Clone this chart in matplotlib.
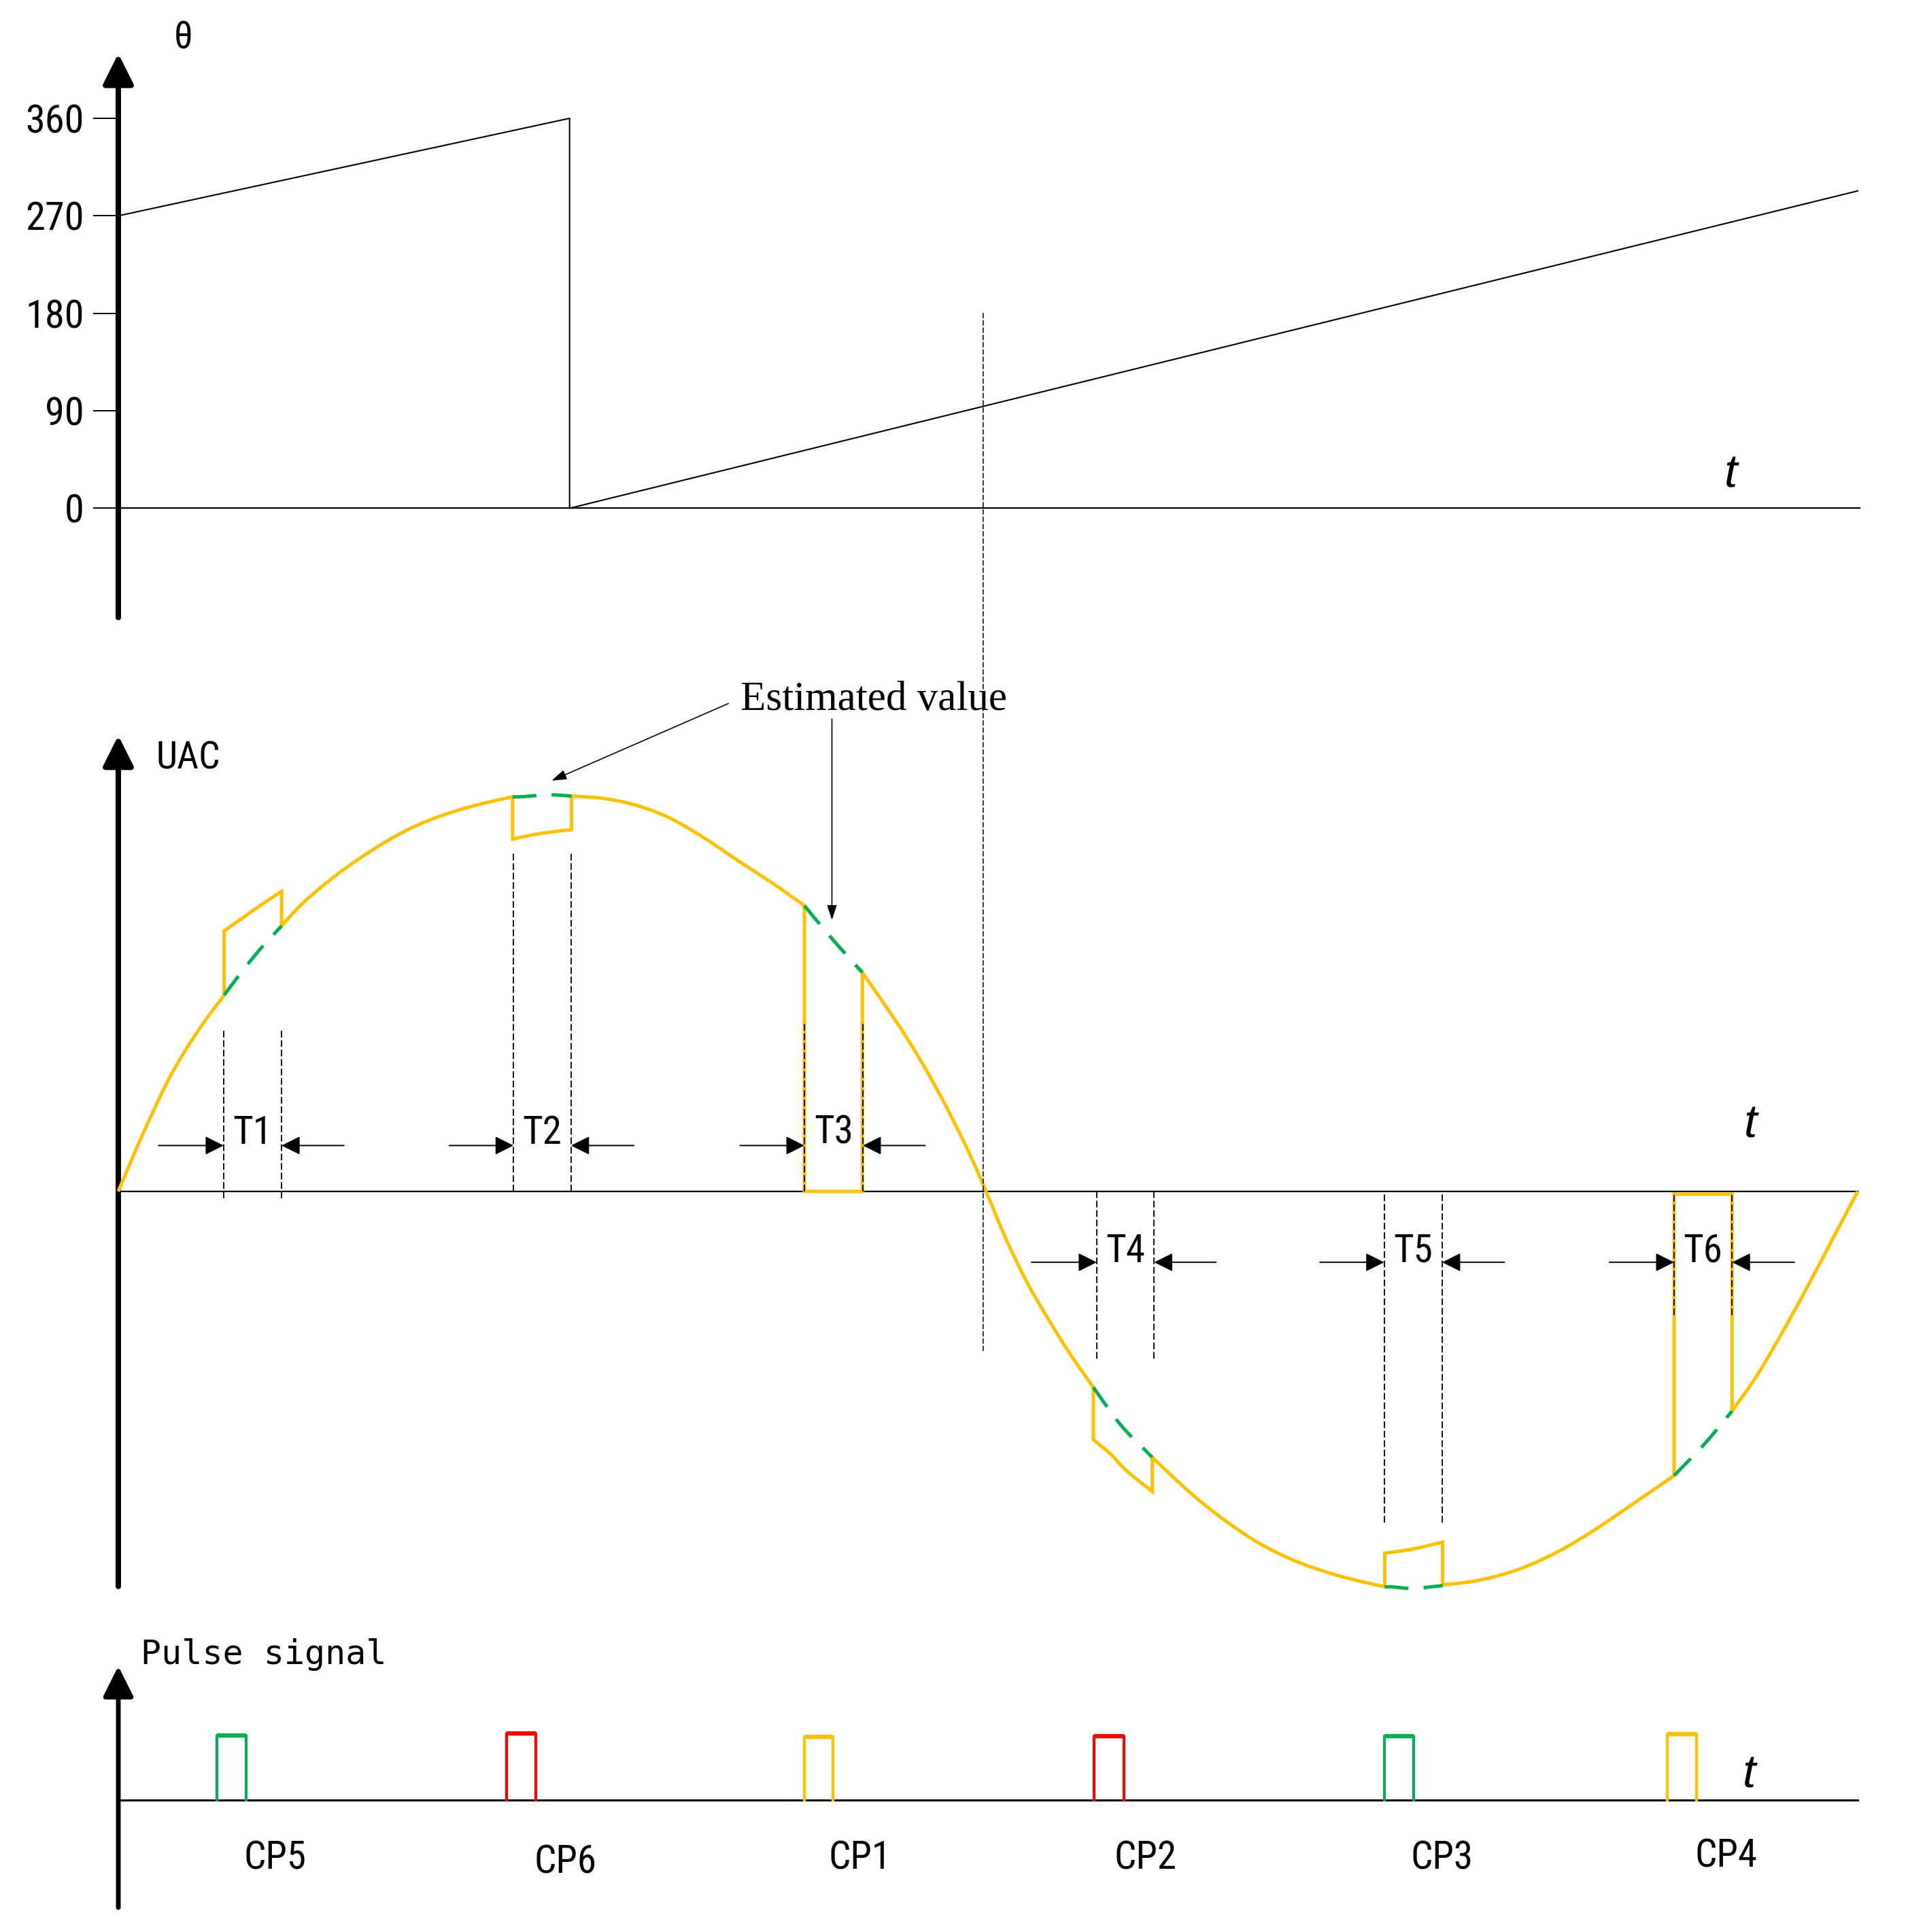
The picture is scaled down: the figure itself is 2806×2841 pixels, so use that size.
import matplotlib
matplotlib.use('Agg')
import matplotlib.pyplot as plt
from matplotlib import font_manager
from matplotlib.patches import ConnectionPatch, PathPatch
from matplotlib.path import Path

names = {f.name for f in font_manager.fontManager.ttflist}


def pick_narrow():
    for n in ['Liberation Sans Narrow', 'Noto Sans Condensed', 'DejaVu Sans Condensed',
              'Roboto Condensed', 'Open Sans Condensed']:
        if n in names:
            return dict(family=n)
    for f in font_manager.fontManager.ttflist:
        if (f.stretch == 'condensed' and f.style == 'normal'
                and f.name in ('Noto Sans', 'DejaVu Sans', 'Open Sans', 'Roboto')):
            return dict(family=f.name, stretch='condensed')
    return dict(family='Liberation Sans')


NARROW = pick_narrow()

# t runs over one UAC period, in degrees
# top panel: phase angle theta
theta_ticks = [0, 90, 180, 270, 360]
theta_t = [0, 93.4, 93.4, 360]
theta_v = [270, 360, 0, 293]

# middle panel: UAC (normalised), with the six distorted windows
uac_t = [0, 3.7, 6.2, 10.2, 13.5, 17.3, 21.9,
         21.9, 25.7, 30.4, 33.8, 33.8,
         37.0, 43.3, 51.0, 60.4, 67.0, 71.7, 76.4, 81.6,
         81.6, 85.7, 89.5, 93.8, 93.8,
         99.8, 106.8, 113.9, 120.9, 128.0, 137.4, 142.0,
         142.0, 154.0, 154.0,
         158.5, 163.2, 167.9, 172.5, 177.2, 179.6, 183.8, 188.0, 192.2, 196.9, 201.8,
         201.8, 205.4, 208.2, 214.0, 214.0,
         218.0, 222.7, 229.8, 236.3, 242.9, 252.3, 262.1,
         262.1, 267.7, 274.1, 274.1,
         280.4, 289.8, 299.2, 306.2, 313.3, 322.0,
         322.0, 334.0, 334.0,
         339.1, 343.8, 348.5, 353.1, 356.9, 360.0]
uac_u = [0, 0.107, 0.175, 0.278, 0.349, 0.420, 0.496,
         0.658, 0.691, 0.731, 0.758, 0.671,
         0.714, 0.782, 0.850, 0.917, 0.950, 0.968, 0.983, 0.997,
         0.890, 0.901, 0.908, 0.914, 0.999,
         0.994, 0.977, 0.945, 0.896, 0.838, 0.762, 0.722,
         0.0, 0.0, 0.553,
         0.474, 0.388, 0.292, 0.187, 0.068, 0.0, -0.122, -0.228, -0.317, -0.409, -0.495,
         -0.627, -0.664, -0.700, -0.758, -0.672,
         -0.718, -0.770, -0.838, -0.890, -0.930, -0.970, -0.999,
         -0.914, -0.904, -0.886, -0.994,
         -0.985, -0.955, -0.902, -0.850, -0.791, -0.718,
         -0.007, -0.007, -0.555,
         -0.466, -0.369, -0.266, -0.160, -0.072, 0.0]

# estimated values inside each window (green dashed)
est_t = [[21.9, 24.8, 29.2, 33.8],
         [81.6, 82.9, 87.2, 89.5, 93.8],
         [142.0, 146.7, 151.4, 154.0],
         [201.8, 207.2, 214.0],
         [262.1, 263.1, 267.3, 274.1],
         [322.0, 328.3, 334.0]]
est_u = [[0.496, 0.543, 0.610, 0.671],
         [0.997, 0.997, 1.001, 1.002, 0.999],
         [0.722, 0.653, 0.588, 0.553],
         [-0.495, -0.586, -0.672],
         [-0.999, -0.999, -1.003, -0.996],
         [-0.718, -0.638, -0.555]]

win_names = ['T1', 'T2', 'T3', 'T4', 'T5', 'T6']
win_left = [21.8, 81.8, 142.0, 202.5, 262.0, 322.0]
win_right = [33.8, 93.7, 154.1, 214.4, 274.0, 334.0]
win_top = [0.412, 0.856, 0.428, 0, 0, 0]
win_bottom = [-0.017, 0, 0, -0.423, -0.836, -0.312]
win_arrow_y = [0.116, 0.116, 0.116, -0.179, -0.179, -0.179]
win_label_y = [0.147, 0.147, 0.147, -0.152, -0.152, -0.152]
win_from_left = [8.3, 68.5, 128.7, 189.0, 248.7, 308.6]
win_from_right = [46.7, 106.7, 167.0, 227.2, 286.9, 346.9]

# bottom panel: trigger pulses
cp_names = ['CP5', 'CP6', 'CP1', 'CP2', 'CP3', 'CP4']
cp_start = [20.4, 80.4, 142.0, 201.9, 262.0, 320.6]
cp_end = [26.5, 86.4, 147.9, 208.1, 268.1, 326.6]
cp_height = [1.0, 1.025, 0.98, 0.985, 0.985, 1.015]
cp_colors = ['#00B050', '#FF0000', '#FFC000', '#FF0000', '#00B050', '#FFC000']
cp_label_t = [32.4, 92.5, 153.5, 212.6, 274.0, 332.8]
cp_label_y = [-0.908, -0.972, -0.908, -0.908, -0.908, -0.877]

ORANGE = '#FFC000'
GREEN = '#00B050'


def smooth_path(ts, us):
    # straight vertical jumps, smooth Bezier (Hermite) curves between them
    runs, cur = [], [0]
    for i in range(1, len(ts)):
        if ts[i] == ts[i - 1]:
            runs.append(cur)
            cur = [i]
        else:
            cur.append(i)
    runs.append(cur)
    verts = [(ts[0], us[0])]
    codes = [Path.MOVETO]
    for r, run in enumerate(runs):
        if r > 0:
            verts.append((ts[run[0]], us[run[0]]))
            codes.append(Path.LINETO)
        x = [ts[i] for i in run]
        y = [us[i] for i in run]
        n = len(x)
        if n == 1:
            continue
        if n == 2:
            verts.append((x[1], y[1]))
            codes.append(Path.LINETO)
            continue
        sec = [(y[k + 1] - y[k]) / (x[k + 1] - x[k]) for k in range(n - 1)]
        h = [x[k + 1] - x[k] for k in range(n - 1)]
        m = [sec[0]]
        for k in range(1, n - 1):
            m.append((sec[k] * h[k - 1] + sec[k - 1] * h[k]) / (h[k - 1] + h[k]))
        m.append(sec[-1])
        for k in range(n - 1):
            d = h[k] / 3
            verts += [(x[k] + d, y[k] + m[k] * d),
                      (x[k + 1] - d, y[k + 1] - m[k + 1] * d),
                      (x[k + 1], y[k + 1])]
            codes += [Path.CURVE4] * 3
    return Path(verts, codes)


W, H = 2806, 2841
fig = plt.figure(figsize=(W / 100, H / 100), dpi=100)

left = 174 / W
width = (2732 - 174) / W
ax_top = fig.add_axes([left, 1 - 747.4 / H, width, (747.4 - 174) / H])
ax_mid = fig.add_axes([left, 1 - 2334 / H, width, (2334 - 1170) / H])
ax_bot = fig.add_axes([left, 1 - 2646.7 / H, width, 95 / H])

for ax in (ax_top, ax_mid, ax_bot):
    ax.set_xlim(0, 360)
    for s in ax.spines.values():
        s.set_visible(False)
    ax.set_xticks([])
    ax.patch.set_alpha(0)

ax_top.set_ylim(0, 360)
ax_mid.set_ylim(-1, 1)
ax_bot.set_ylim(0, 1)
ax_mid.set_yticks([])
ax_bot.set_yticks([])


def axis_arrow(ax, lo, hi, lw=5.8):
    ax.annotate('', xy=(0, hi), xytext=(0, lo), annotation_clip=False,
                arrowprops=dict(arrowstyle='-|>', color='k', lw=lw,
                                mutation_scale=68, shrinkA=0, shrinkB=0))


def t_label(ax, x, y):
    ax.text(x, y, 't', fontsize=50, family='Liberation Sans', style='italic',
            ha='center', va='center')


# ---- top panel ----
ax_top.set_yticks(theta_ticks)
ax_top.set_yticklabels([str(v) for v in theta_ticks], **NARROW)
ax_top.tick_params(axis='y', direction='out', length=27, width=1.4, pad=9,
                   labelsize=42)
axis_arrow(ax_top, -100.9, 419.8)
ax_top.plot([0, 360.4], [0, 0], color='k', lw=1.6, clip_on=False)
ax_top.plot(theta_t, theta_v, color='k', lw=1.5, clip_on=False)
ax_top.text(13.5, 434.3, 'θ', fontsize=40, ha='center', va='center', **NARROW)
t_label(ax_top, 333.7, 30.4)

# ---- middle panel ----
axis_arrow(ax_mid, -0.998, 1.152)
ax_mid.plot([0, 360], [0, 0], color='k', lw=1.6, clip_on=False)
ax_mid.add_patch(PathPatch(smooth_path(uac_t, uac_u), fill=False, edgecolor=ORANGE,
                           lw=3.6, joinstyle='miter', capstyle='butt',
                           clip_on=False, zorder=3))
for et, eu in zip(est_t, est_u):
    ax_mid.add_patch(PathPatch(smooth_path(et, eu), fill=False, edgecolor=GREEN,
                               lw=3.6, linestyle=(0, (7, 4.5)), capstyle='butt',
                               clip_on=False, zorder=3))

for i in range(6):
    for x in (win_left[i], win_right[i]):
        ax_mid.plot([x, x], [win_bottom[i], win_top[i]], color='k', lw=1.3,
                    dashes=(5.5, 2.2), clip_on=False, zorder=4)
    y = win_arrow_y[i]
    for x0, x1 in ((win_from_left[i], win_left[i]), (win_from_right[i], win_right[i])):
        ax_mid.annotate('', xy=(x1, y), xytext=(x0, y), annotation_clip=False,
                        arrowprops=dict(arrowstyle='-|>', color='k', lw=1.4,
                                        mutation_scale=42, shrinkA=0, shrinkB=0))
    ax_mid.text((win_left[i] + win_right[i]) / 2, win_label_y[i], win_names[i],
                fontsize=41, ha='center', va='center', **NARROW)

ax_mid.text(14.5, 1.094, 'UAC', fontsize=40, ha='center', va='center', **NARROW)
ax_mid.text(156.3, 1.216, 'Estimated value', fontsize=44, family='Liberation Serif',
            ha='center', va='baseline')
est_arrow = dict(arrowstyle='-|>,head_length=0.6,head_width=0.2', color='k', lw=1.2,
                 mutation_scale=22, shrinkA=0, shrinkB=0)
ax_mid.annotate('', xy=(89.7, 1.038), xytext=(126.3, 1.233), annotation_clip=False,
                arrowprops=est_arrow)
ax_mid.annotate('', xy=(147.7, 0.686), xytext=(147.7, 1.194), annotation_clip=False,
                arrowprops=est_arrow)
t_label(ax_mid, 337.8, 0.168)

# dashed guide from theta = 180 down into the UAC panel
guide = ConnectionPatch(xyA=(179.0, 180), coordsA=ax_top.transData,
                        xyB=(179.0, -0.404), coordsB=ax_mid.transData,
                        color='k', lw=1.1, linestyle=(0, (4.5, 2.5)))
fig.add_artist(guide)

# ---- bottom panel ----
axis_arrow(ax_bot, -1.667, 2.07, lw=5)
ax_bot.plot([0, 360], [0, 0], color='k', lw=2.2, clip_on=False)
for i in range(6):
    a, b, h, c = cp_start[i], cp_end[i], cp_height[i], cp_colors[i]
    ax_bot.plot([a, a, b, b], [0, h, h, 0], color=c, lw=3.0, clip_on=False, zorder=3)
    ax_bot.plot([a, b], [h, h], color=c, lw=4.6, clip_on=False, zorder=3,
                solid_capstyle='butt')
    ax_bot.text(cp_label_t[i], cp_label_y[i], cp_names[i], fontsize=41,
                ha='center', va='center', **NARROW)
ax_bot.text(4.6, 2.105, 'Pulse signal', fontsize=36, family='DejaVu Sans Mono',
            ha='left', va='baseline')
t_label(ax_bot, 337.5, 0.386)

fig.savefig('out.png', dpi=100, facecolor='white')
